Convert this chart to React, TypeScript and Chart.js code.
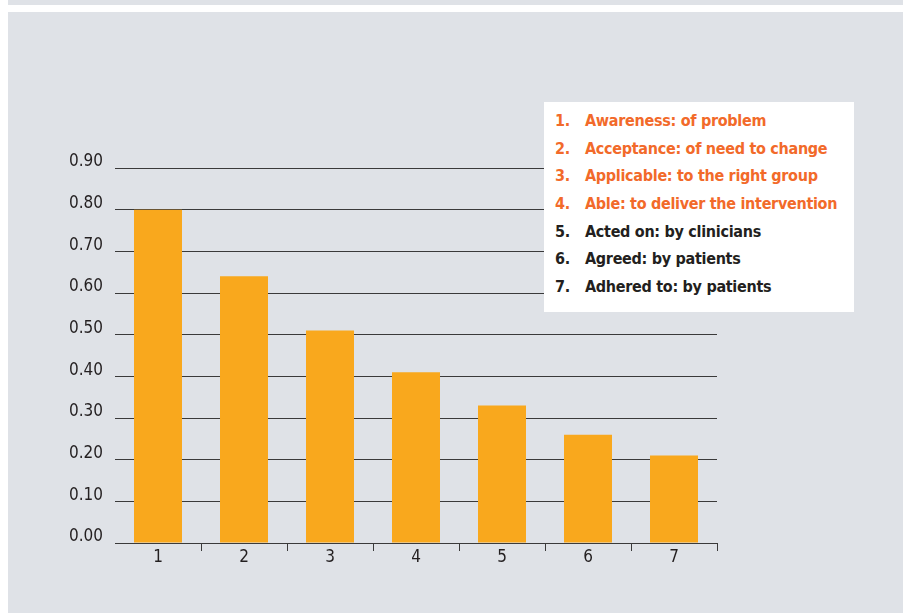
import React, { useEffect, useRef } from "react";
import { Chart, registerables } from "chart.js";

Chart.register(...registerables);

const categories = ["1", "2", "3", "4", "5", "6", "7"];
const values = [0.8, 0.64, 0.51, 0.41, 0.33, 0.26, 0.21];
const legendNumbers = ["1.", "2.", "3.", "4.", "5.", "6.", "7."];
const legendTexts = [
  "Awareness: of problem",
  "Acceptance: of need to change",
  "Applicable: to the right group",
  "Able: to deliver the intervention",
  "Acted on: by clinicians",
  "Agreed: by patients",
  "Adhered to: by patients",
];
const legendHighlighted = [true, true, true, true, false, false, false];

const FONT = '"Liberation Sans Narrow", "DejaVu Sans Condensed", "Noto Sans", sans-serif';
const ORANGE_TEXT = "#f26a2a";
const DARK_TEXT = "#231f20";
const BAR = "#f9a81d";
const PANEL = "#dfe2e7";
const LINE = "#3a3a3a";

export default function App() {
  const ref = useRef<HTMLCanvasElement | null>(null);

  useEffect(() => {
    if (!ref.current) return;
    const chart = new Chart(ref.current, {
      type: "bar",
      data: {
        labels: categories,
        datasets: [
          {
            data: values,
            backgroundColor: BAR,
            borderWidth: 0,
            categoryPercentage: 1,
            barPercentage: 0.558,
          },
        ],
      },
      options: {
        animation: false,
        responsive: false,
        maintainAspectRatio: false,
        layout: { padding: { left: 0, top: 168, right: 903 - 717, bottom: 0 } },
        plugins: { legend: { display: false }, tooltip: { enabled: false } },
        scales: {
          x: {
            grid: {
              offset: true,
              drawOnChartArea: false,
              drawTicks: true,
              tickLength: 8,
              color: (ctx: any) => (ctx.index === 0 ? "rgba(0,0,0,0)" : LINE),
              lineWidth: 1,
            },
            border: { display: true, color: LINE, width: 1 },
            ticks: {
              color: DARK_TEXT,
              font: { family: FONT, size: 17 },
              padding: -4,
            },
            afterFit: (s: any) => {
              s.height = 613 - 543;
            },
          },
          y: {
            min: 0,
            max: 0.9,
            grid: { drawTicks: false, color: LINE, lineWidth: 1 },
            border: { display: false },
            ticks: {
              stepSize: 0.1,
              color: DARK_TEXT,
              font: { family: FONT, size: 17 },
              padding: 12,
              labelOffset: -6,
              callback: (v: any) => Number(v).toFixed(2),
            },
            afterFit: (s: any) => {
              s.width = 115;
            },
          },
        },
      },
    });
    return () => chart.destroy();
  }, []);

  return (
    <div style={{ position: "absolute", left: 0, top: 0, width: 903, height: 613, background: "#fff", overflow: "hidden" }}>
      <div style={{ position: "absolute", left: 8, top: 0, width: 895, height: 5, background: PANEL }} />
      <div style={{ position: "absolute", left: 8, top: 12, width: 895, height: 601, background: PANEL }} />
      <canvas ref={ref} width={903} height={613} style={{ position: "absolute", left: 0, top: 0, width: 903, height: 613 }} />
      <div
        style={{
          position: "absolute",
          left: 544,
          top: 102,
          width: 310,
          height: 210,
          background: "#fff",
          fontFamily: FONT,
          fontWeight: "bold",
          fontSize: 16,
          letterSpacing: "-0.3px",
        }}
      >
        <div style={{ position: "absolute", left: 0, top: 5 }}>
          {legendTexts.map((t, i) => (
            <div
              key={i}
              style={{
                height: 27.7,
                lineHeight: "27.7px",
                whiteSpace: "nowrap",
                color: legendHighlighted[i] ? ORANGE_TEXT : DARK_TEXT,
                position: "relative",
              }}
            >
              <span style={{ position: "absolute", left: 11 }}>{legendNumbers[i]}</span>
              <span style={{ position: "absolute", left: 41 }}>{t}</span>
            </div>
          ))}
        </div>
      </div>
    </div>
  );
}
